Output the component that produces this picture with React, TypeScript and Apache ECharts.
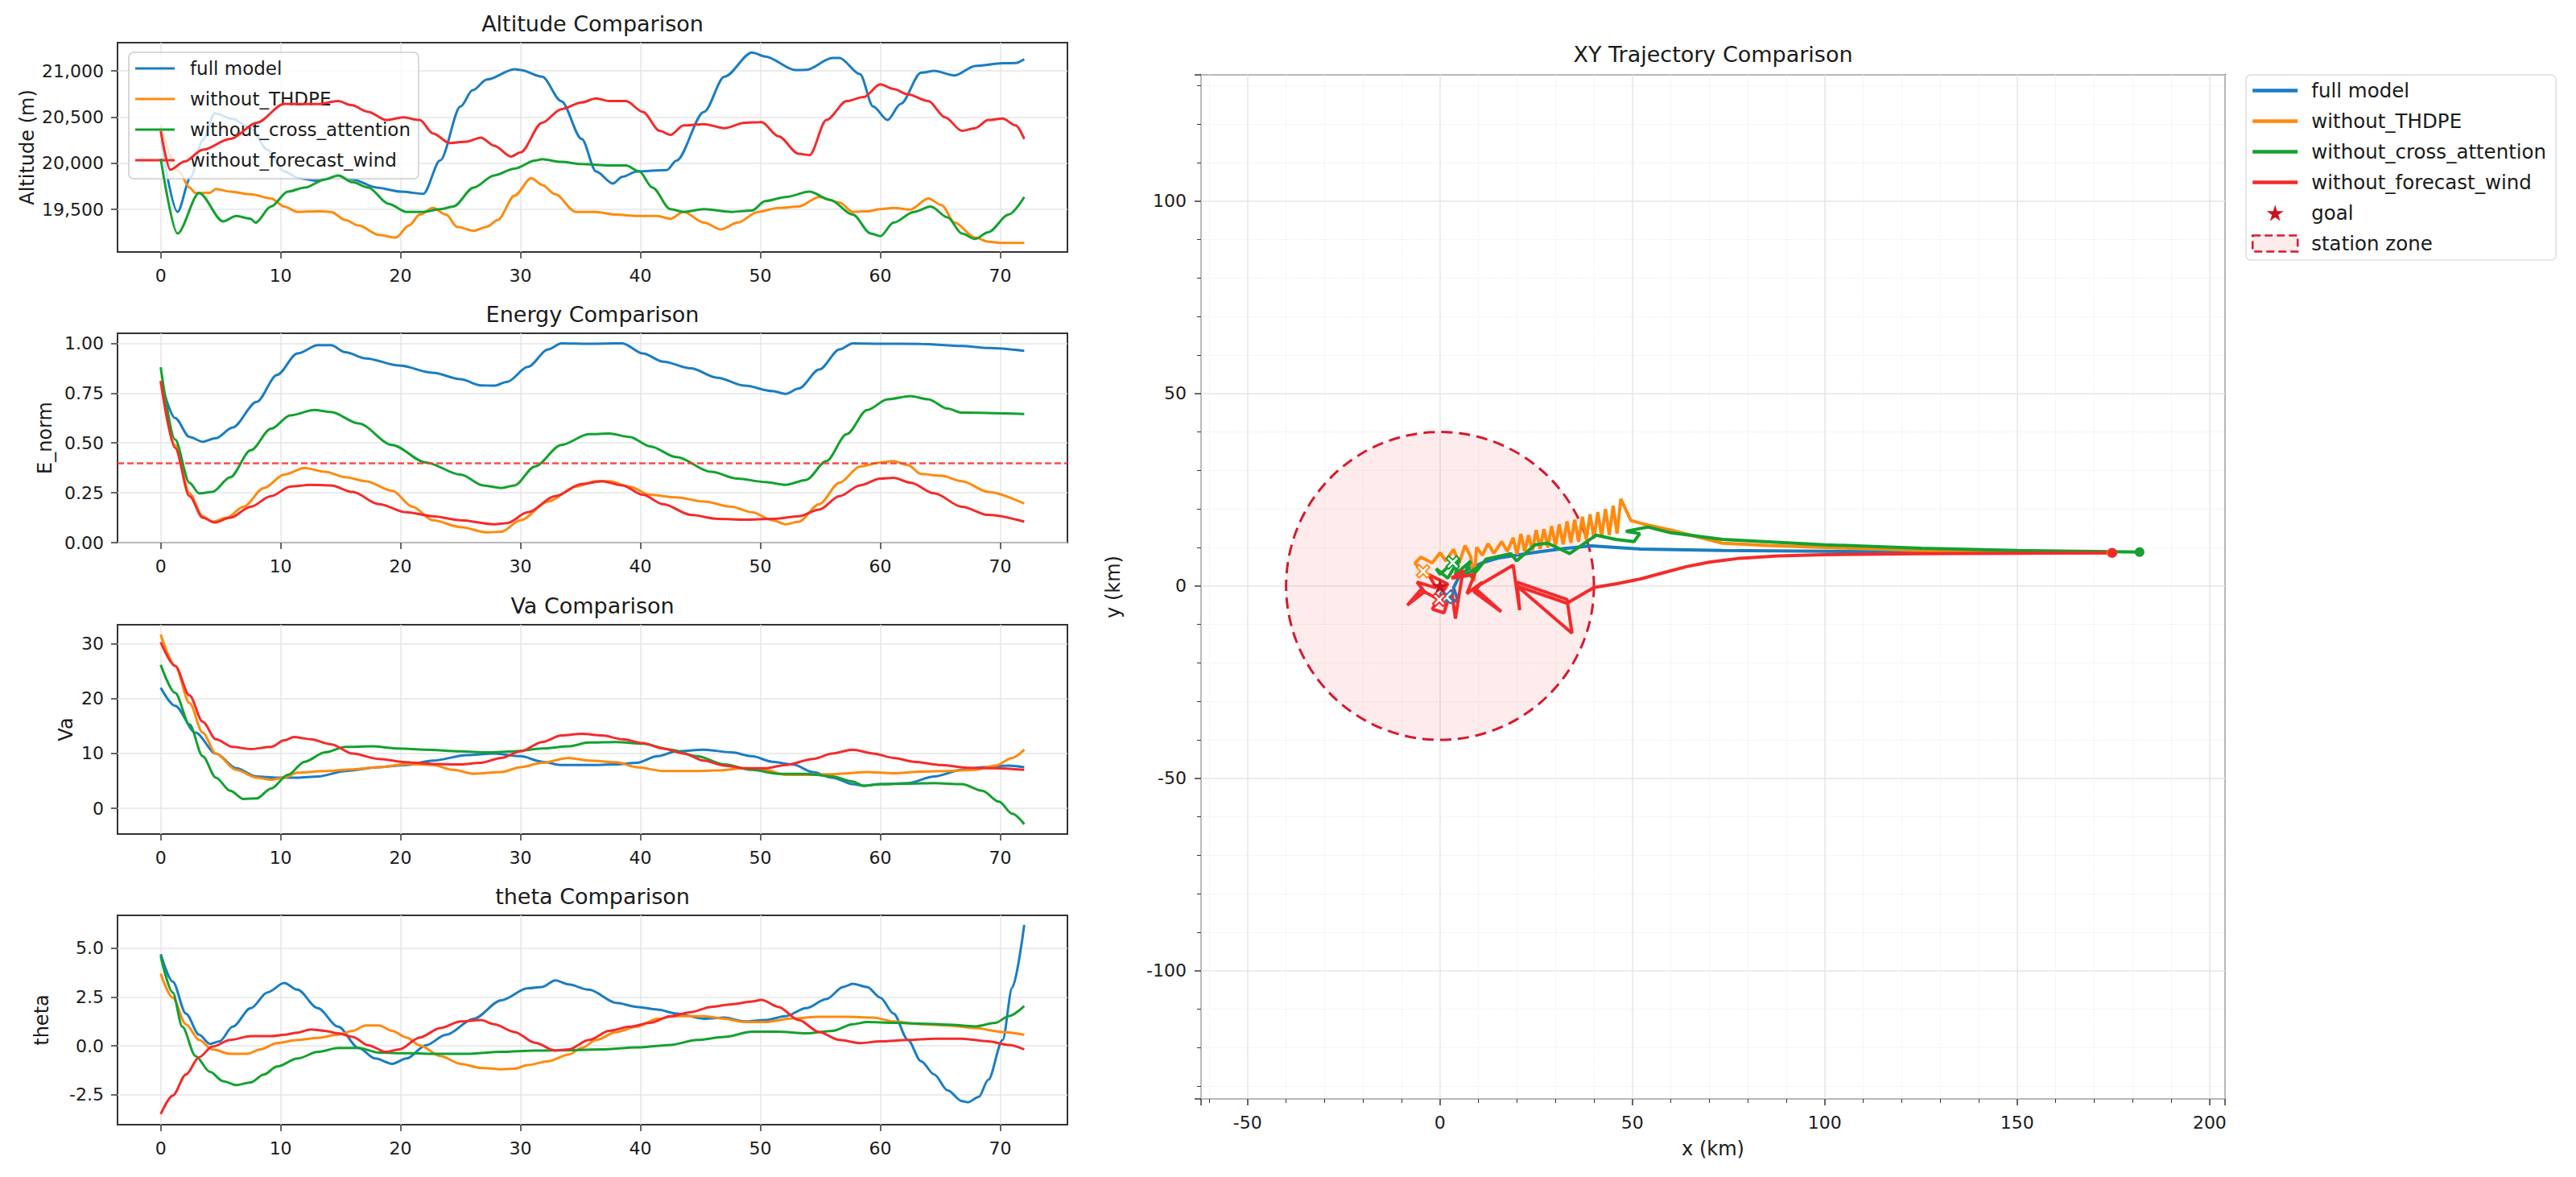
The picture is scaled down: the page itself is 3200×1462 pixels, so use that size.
import { useEffect, useRef } from 'react';
import * as echarts from 'echarts/core';
import { LineChart, ScatterChart, CustomChart } from 'echarts/charts';
import { TitleComponent, LegendComponent, GridComponent, MarkLineComponent } from 'echarts/components';
import { SVGRenderer } from 'echarts/renderers';

echarts.use([LineChart, ScatterChart, CustomChart, TitleComponent, LegendComponent, GridComponent, MarkLineComponent, SVGRenderer]);

// model names, same order in every panel
const MODELS = ['full model', 'without_THDPE', 'without_cross_attention', 'without_forecast_wind'];

// tick labels
const HOUR_TICKS = [0, 10, 20, 30, 40, 50, 60, 70];
const ALT_TICKS = [19500, 20000, 20500, 21000];
const ENERGY_TICKS = [0, 0.25, 0.5, 0.75, 1];
const VA_TICKS = [0, 10, 20, 30];
const THETA_TICKS = [-2.5, 0, 2.5, 5];

const ENERGY_THRESHOLD = 0.4;
const GOAL = [0, 0];
const STATION = [0, 0, 40]; // x, y, radius (km)

// altitude (m) vs hour
const altFull = [[0, 20250], [1.4, 19474], [2.5, 19850], [3.5, 20250], [4.5, 20540], [6, 20480], [7.5, 20380], [8.9, 20146], [10.3, 19912], [11.5, 19840], [13, 19810], [14.8, 19868], [16, 19825], [18, 19737], [20, 19693], [21.9, 19670], [23.3, 20030], [25, 20614], [26, 20790], [27.2, 20906], [29.5, 21017], [30, 21009], [31.8, 20936], [33.4, 20672], [35.1, 20263], [36.3, 19912], [37.7, 19781], [38.5, 19854], [39.7, 19912], [42.2, 19927], [43, 20029], [45.3, 20556], [47, 20936], [49.3, 21199], [50.4, 21155], [52.9, 21009], [53.8, 21010], [56, 21140], [56.6, 21140], [58.3, 20965], [59.4, 20614], [60.6, 20468], [61.7, 20643], [63.4, 20980], [64.5, 21000], [66.2, 20950], [67.9, 21053], [70.2, 21082], [71.3, 21085], [72, 21126]];
const altThdpe = [[0, 20410], [1.5, 19912], [2.4, 19737], [2.9, 19678], [4.1, 19680], [4.6, 19722], [5.8, 19693], [7.5, 19664], [9.2, 19620], [10.3, 19532], [11.4, 19474], [13.1, 19480], [14.2, 19474], [15.4, 19386], [16.5, 19327], [18.2, 19225], [19.6, 19196], [20.7, 19327], [21.6, 19444], [22.7, 19517], [23.8, 19444], [24.7, 19313], [26.1, 19269], [27.2, 19313], [28.1, 19386], [29.5, 19649], [30.9, 19839], [31.8, 19766], [32.9, 19664], [34.6, 19474], [36.3, 19474], [38, 19444], [39.7, 19430], [41.4, 19430], [42.5, 19400], [43.6, 19474], [45.3, 19357], [46.7, 19284], [48.1, 19357], [49.8, 19474], [51.5, 19517], [53.2, 19532], [54.9, 19635], [56.6, 19576], [57.7, 19474], [58.9, 19480], [60, 19503], [61.1, 19517], [62.5, 19500], [64, 19620], [65.1, 19547], [66.2, 19357], [67.9, 19196], [69, 19152], [70.2, 19137], [72, 19137]];
const altCross = [[0, 20050], [1.4, 19240], [3.2, 19678], [5.2, 19371], [6.3, 19430], [7.5, 19400], [7.9, 19357], [9.2, 19532], [10.6, 19693], [12, 19737], [13.7, 19825], [14.8, 19868], [16, 19795], [17.3, 19737], [19, 19561], [20.5, 19474], [21.9, 19474], [23.3, 19503], [24.4, 19532], [26.1, 19737], [27.8, 19868], [29.5, 19942], [31.2, 20029], [31.8, 20044], [33.4, 20015], [35.1, 19991], [37.4, 19977], [38.8, 19977], [39.9, 19912], [41, 19737], [42.5, 19503], [43.6, 19474], [45.3, 19503], [47.6, 19474], [49.3, 19488], [50.4, 19591], [52.1, 19635], [54.1, 19693], [55.8, 19605], [57.7, 19444], [59.2, 19240], [60, 19211], [61.1, 19357], [62.8, 19474], [64.2, 19532], [65.6, 19415], [66.8, 19240], [67.9, 19181], [69, 19254], [70.7, 19444], [72, 19635]];
const altWind = [[0, 20350], [0.8, 19930], [2, 20020], [3.5, 20146], [5.8, 20263], [8, 20439], [10.3, 20643], [12, 20640], [13.1, 20640], [14.8, 20673], [15.9, 20629], [17.3, 20556], [18.8, 20468], [20.2, 20497], [21.6, 20468], [22.7, 20322], [24.1, 20219], [25.5, 20234], [26.7, 20278], [27.8, 20190], [29.2, 20073], [30, 20117], [31.8, 20439], [33.4, 20585], [35.1, 20658], [36.3, 20702], [37.4, 20673], [38.8, 20673], [40.2, 20556], [41.6, 20351], [42.5, 20307], [43.6, 20409], [45.3, 20424], [47, 20380], [48.7, 20439], [50.1, 20444], [51.5, 20292], [53.2, 20102], [54.1, 20088], [55.5, 20468], [57.2, 20673], [58.6, 20716], [60, 20854], [61.1, 20804], [62.3, 20746], [64, 20673], [65.4, 20497], [66.8, 20351], [67.9, 20380], [69, 20468], [70.2, 20483], [71.3, 20409], [72, 20263]];

// normalised energy vs hour
const energyFull = [[0, 0.81], [1.2, 0.625], [2.4, 0.53], [3.5, 0.506], [4.6, 0.524], [6, 0.578], [8, 0.706], [9.7, 0.841], [11.4, 0.949], [13.1, 0.99], [14.2, 0.99], [15.4, 0.955], [17.1, 0.924], [19.9, 0.888], [22.7, 0.852], [25, 0.82], [26.7, 0.789], [27.8, 0.787], [28.9, 0.807], [30.6, 0.881], [32.3, 0.969], [33.4, 1.0], [35.7, 0.998], [38.5, 1.0], [40.2, 0.949], [41.9, 0.908], [44.2, 0.874], [46.4, 0.827], [48.7, 0.787], [51, 0.76], [52.1, 0.746], [53.2, 0.773], [54.9, 0.868], [56.6, 0.969], [57.7, 1.0], [60, 0.998], [63.4, 0.996], [66.8, 0.986], [69, 0.976], [72, 0.962]];
const energyThdpe = [[0, 0.81], [1.2, 0.49], [2.4, 0.247], [3.5, 0.132], [4.3, 0.105], [5.5, 0.125], [6.9, 0.18], [8.6, 0.274], [10.3, 0.341], [12, 0.375], [13.7, 0.355], [15.4, 0.328], [17.1, 0.308], [19.3, 0.26], [21, 0.18], [22.7, 0.112], [25, 0.078], [27.2, 0.051], [28.4, 0.055], [30, 0.112], [32.3, 0.206], [34.6, 0.281], [36.3, 0.308], [37.4, 0.308], [39.1, 0.281], [40.8, 0.24], [43, 0.227], [45.3, 0.206], [47.6, 0.18], [49.3, 0.152], [51, 0.112], [52.1, 0.092], [53.2, 0.105], [54.9, 0.193], [56.6, 0.301], [58.3, 0.382], [60, 0.402], [61.1, 0.409], [62.3, 0.389], [63.4, 0.344], [65.1, 0.335], [66.8, 0.308], [69, 0.254], [72, 0.196]];
const energyCross = [[0, 0.88], [1.2, 0.517], [2.4, 0.3], [3.2, 0.247], [4.3, 0.254], [5.8, 0.328], [7.5, 0.463], [9.2, 0.571], [10.8, 0.638], [12.8, 0.665], [14.2, 0.655], [16.5, 0.598], [19.3, 0.49], [22.1, 0.402], [25, 0.341], [26.9, 0.287], [28.4, 0.274], [29.5, 0.287], [31.2, 0.382], [33.4, 0.49], [35.7, 0.544], [37.4, 0.547], [39.1, 0.53], [40.8, 0.483], [43, 0.429], [45.9, 0.355], [48.1, 0.321], [50.4, 0.304], [52.1, 0.29], [53.8, 0.314], [55.5, 0.409], [57.2, 0.544], [58.9, 0.665], [60.6, 0.719], [62.5, 0.735], [64, 0.719], [65.6, 0.672], [66.8, 0.652], [72, 0.645]];
const energyWind = [[0, 0.81], [1.2, 0.476], [2.4, 0.233], [3.5, 0.125], [4.5, 0.101], [5.8, 0.125], [7.5, 0.18], [9.2, 0.233], [10.8, 0.281], [12.5, 0.29], [14.2, 0.287], [16, 0.254], [18.2, 0.193], [20.5, 0.152], [22.7, 0.132], [25, 0.112], [27.8, 0.092], [28.9, 0.098], [30.6, 0.152], [32.9, 0.233], [35.1, 0.294], [36.8, 0.308], [38.5, 0.287], [40.2, 0.24], [41.9, 0.193], [44.2, 0.139], [46.4, 0.119], [48.7, 0.115], [51, 0.119], [53.2, 0.132], [54.9, 0.166], [56.6, 0.233], [58.3, 0.287], [60, 0.321], [61.1, 0.325], [62.5, 0.301], [64.5, 0.247], [66.8, 0.18], [69, 0.139], [72, 0.105]];

// airspeed Va vs hour
const vaFull = [[0, 22], [1.2, 18.7], [2.9, 13.8], [4.6, 10], [6.3, 7.3], [8, 5.8], [9.7, 5.6], [11.4, 5.6], [13.1, 5.8], [15.4, 6.8], [18.2, 7.5], [20.5, 7.9], [22.7, 8.7], [25.5, 9.7], [27.8, 10], [30, 9.5], [31.8, 8.5], [33.4, 7.9], [35.7, 7.9], [38, 8], [39.7, 8.3], [41.4, 9.5], [43, 10.4], [45.3, 10.7], [47.6, 10.2], [49.3, 9.5], [51, 8.5], [52.7, 8], [54.4, 6.6], [56, 5.6], [57.7, 4.4], [58.6, 4.1], [60, 4.4], [62.3, 4.6], [64.5, 5.8], [66.8, 7], [68.5, 7.5], [70.7, 7.8], [72, 7.5]];
const vaThdpe = [[0, 31.7], [1.2, 26], [2.4, 19.2], [3.5, 13.8], [4.6, 10], [6.3, 7], [8, 5.6], [9.2, 5.2], [10.3, 5.6], [11.4, 6.5], [13.7, 6.8], [16, 7.1], [18.2, 7.5], [20.5, 8.1], [22.7, 7.9], [24.4, 7], [26.1, 6.3], [28.4, 6.6], [30, 7.5], [31.8, 8.3], [34, 9.2], [35.7, 8.7], [38, 8.4], [39.7, 7.5], [41.9, 6.8], [44.2, 6.8], [46.4, 6.9], [48.7, 7.3], [50.4, 7], [52.1, 6.1], [54.4, 6.1], [56.6, 6.3], [58.9, 6.6], [61.1, 6.4], [63.4, 6.7], [65.6, 6.8], [67.9, 7], [69.6, 7.8], [71, 9.2], [72, 10.7]];
const vaCross = [[0, 26.2], [1.2, 21.1], [2.4, 15.3], [3.5, 9.5], [4.6, 5.6], [5.8, 3.2], [6.9, 1.7], [8, 1.8], [9.2, 3.6], [10.6, 6.1], [12, 8.5], [13.7, 10.2], [15.4, 11.2], [17.6, 11.3], [19.9, 10.9], [22.1, 10.7], [25, 10.4], [27.2, 10.2], [29.5, 10.4], [31.8, 10.9], [34, 11.3], [35.7, 12], [38, 12.1], [40.2, 11.8], [42.5, 10.7], [44.7, 9.5], [47, 8], [49.3, 7], [51.5, 6.3], [53.8, 6.3], [56, 5.8], [57.7, 4.9], [58.6, 4.1], [60, 4.4], [62.3, 4.5], [64.5, 4.6], [66.8, 4.4], [68.5, 3.2], [69.9, 1.2], [71, -1], [72, -2.9]];
const vaWind = [[0, 30.3], [1.2, 26], [2.4, 20.6], [3.5, 15.8], [4.6, 12.6], [6, 11.2], [7.5, 10.8], [9.2, 11.2], [10.3, 12.4], [11.1, 13], [12.5, 12.6], [14.2, 11.7], [16, 10], [18.2, 9], [20.5, 8.4], [22.7, 8.1], [25, 8], [26.7, 8.3], [28.4, 9.2], [30, 10.4], [31.8, 12.1], [33.4, 13.3], [35.1, 13.6], [36.8, 13.3], [38.5, 12.6], [40.2, 11.9], [41.9, 10.9], [43.6, 10], [45.3, 8.7], [47, 7.8], [48.7, 7.3], [50.4, 7.3], [52.1, 7.9], [54.4, 9], [56, 10], [57.7, 10.7], [59.4, 10], [61.1, 9.2], [62.8, 8.5], [65.1, 7.9], [67.3, 7.4], [69.6, 7.3], [72, 7]];

// heading theta vs hour
const thetaFull = [[0, 4.7], [1, 3.3], [2.1, 1.66], [3.2, 0.57], [4.1, 0.1], [4.9, 0.23], [6, 0.98], [7.5, 1.93], [8.9, 2.74], [10.3, 3.22], [11.4, 2.88], [13.1, 1.93], [14.8, 0.98], [16.5, -0.11], [17.9, -0.65], [19.3, -0.92], [20.5, -0.65], [22.1, 0.03], [23.8, 0.57], [26.1, 1.39], [28.4, 2.34], [30.6, 2.95], [31.8, 3.02], [32.9, 3.36], [34, 3.15], [35.7, 2.88], [38, 2.2], [39.7, 2], [41.4, 1.86], [43, 1.66], [45.3, 1.39], [47, 1.45], [48.7, 1.25], [50.4, 1.32], [52.1, 1.52], [53.8, 1.93], [55.5, 2.4], [56.9, 3.02], [57.7, 3.18], [58.9, 3.02], [60, 2.47], [61.1, 1.66], [62.3, 0.3], [63.4, -0.79], [64.5, -1.47], [65.6, -2.28], [66.8, -2.83], [67.3, -2.89], [68.2, -2.62], [69, -1.74], [70.2, 0.3], [71, 3], [72, 6.2]];
const thetaThdpe = [[0, 3.7], [1, 2.47], [2.1, 1.11], [3.2, 0.3], [4.3, -0.18], [5.8, -0.41], [7.2, -0.41], [8.3, -0.18], [9.7, 0.14], [11.4, 0.3], [13.1, 0.41], [14.8, 0.57], [16, 0.77], [17.1, 1.05], [18.2, 1.05], [19.3, 0.77], [20.5, 0.43], [21.6, 0.03], [23.3, -0.52], [25, -0.92], [26.7, -1.13], [28.4, -1.2], [29.5, -1.17], [30.6, -0.99], [32.3, -0.79], [34, -0.45], [35.1, -0.11], [36.3, 0.3], [38, 0.71], [39.7, 0.98], [41.4, 1.39], [43, 1.52], [45.3, 1.52], [47, 1.39], [48.7, 1.22], [50.4, 1.22], [52.7, 1.41], [54.9, 1.49], [57.2, 1.49], [59.4, 1.45], [61.1, 1.25], [63.4, 1.11], [65.6, 1.05], [67.9, 0.91], [70.2, 0.71], [72, 0.57]];
const thetaCross = [[0, 4.58], [1, 2.74], [1.8, 0.98], [2.9, -0.52], [4.1, -1.33], [5.2, -1.81], [6.3, -2.01], [7.5, -1.87], [8.6, -1.47], [9.7, -1.06], [11.4, -0.65], [13.1, -0.31], [14.8, -0.11], [16.5, -0.11], [18.2, -0.35], [20.5, -0.38], [23.3, -0.41], [25.5, -0.41], [28.4, -0.31], [31.2, -0.24], [34, -0.22], [36.8, -0.18], [39.7, -0.08], [42.5, 0.05], [44.7, 0.3], [47, 0.46], [49.3, 0.73], [51.5, 0.73], [53.8, 0.64], [56, 0.77], [57.7, 1.11], [58.9, 1.22], [61.1, 1.18], [63.4, 1.14], [65.6, 1.09], [67.9, 1], [69.6, 1.18], [70.7, 1.52], [72, 2.04]];
const thetaWind = [[0, -3.5], [1, -2.55], [2.1, -1.47], [3.2, -0.58], [4.3, -0.04], [5.8, 0.3], [7.5, 0.5], [9.2, 0.5], [10.3, 0.57], [11.4, 0.68], [12.5, 0.84], [13.7, 0.77], [14.8, 0.64], [16, 0.46], [17.3, 0.03], [18.8, -0.31], [19.9, -0.18], [21.6, 0.43], [23.3, 0.91], [25, 1.25], [26.7, 1.32], [27.8, 1.11], [29.5, 0.71], [31.2, 0.16], [32.9, -0.24], [34, -0.18], [35.7, 0.3], [37.4, 0.77], [39.1, 0.98], [40.8, 1.18], [42.5, 1.52], [44.2, 1.73], [45.9, 2], [47.6, 2.13], [49.3, 2.27], [50.1, 2.36], [51.5, 2], [53.2, 1.32], [54.9, 0.71], [56.6, 0.3], [58.3, 0.14], [60, 0.23], [62.3, 0.3], [64.5, 0.37], [66.8, 0.37], [69, 0.23], [70.7, 0.05], [72, -0.18]];

// XY trajectories (km)
const trajFull = [[1.7, -2.9], [4.8, -4.2], [3.5, -0.5], [5, 2.5], [7.5, 4.5], [11, 6], [15, 7.2], [20, 8], [26, 8.9], [32, 9.7], [39.3, 10.4], [52, 9.6], [73.4, 9.2], [100, 9], [130, 8.8], [150, 8.7], [174.7, 8.6]];
const trajThdpe = [[-4.4, 3.8], [-6.5, 5.9], [-5, 7.5], [-2, 6], [0, 8.6], [1.5, 6.5], [3.5, 9.5], [5, 6], [6.5, 10.5], [8, 7.5], [8.8, 1.2], [9.5, 10], [11, 8], [12.5, 11], [14, 8.5], [16, 11.5], [17.5, 9], [19, 12.5], [20, 8.2], [21, 13.5], [22, 9], [23, 13.2], [24, 9.2], [25, 14.5], [26, 9.6], [27, 14.8], [28, 10], [29, 15.5], [30, 10.5], [31, 16], [32, 10.8], [33, 16.8], [34, 11.2], [35, 17.2], [36, 11.5], [37, 18], [38, 12], [39, 18.6], [40, 12.3], [41, 19.2], [42, 12.8], [43, 20], [44, 13.2], [45, 20.8], [46, 13.6], [47, 22.6], [49.6, 17], [53.6, 15.9], [60, 14.5], [73.4, 11.1], [85, 10.5], [100, 10], [125, 9.2], [150, 8.8], [174.5, 8.6]];
const trajCross = [[3.3, 6.1], [0, 3], [-1, 4.5], [2, 2], [5, 7], [4, 3], [8, 6.5], [6, 2.5], [10, 5], [8, 2], [12, 7], [18.4, 8.4], [19.9, 6.5], [24.7, 10.7], [28, 11.1], [33.7, 8.4], [40.6, 13.2], [45.6, 12.1], [50.4, 11.5], [51.9, 13.6], [48.3, 14.2], [54, 15.3], [60, 13.8], [73.4, 12.1], [100, 10.7], [125, 9.8], [150, 9.2], [174.7, 8.9], [181.8, 8.8]];
const trajWind = [[-0.2, -3.6], [-5, -1], [-8.5, -5], [-4, -1.5], [-6, 1], [-1, -0.5], [-3, 3], [2, 0.5], [-2, -6], [1, -7], [3, -1], [4, -8.5], [5, -2], [6, 4], [3, 2], [9, 3], [7, -2], [11, 1], [8.8, -1.5], [15.9, -6.7], [9, -0.5], [19, 5.4], [20.7, -6.3], [20, 1], [33, -3.5], [34.3, -12.3], [20, 0], [33, -4.5], [40, -0.4], [46, 0.6], [52, 1.8], [58, 3.4], [64, 5], [70, 6.2], [78, 7.2], [88, 7.8], [100, 8.1], [125, 8.4], [150, 8.5], [174.7, 8.6]];

const COLORS = ['#1a7dc2', '#ff8a0d', '#13a12f', '#f52a2a'];
const FONT = 'DejaVu Sans';
const INK = '#1a1a1a';
const STAR = 'path://M50,0 L61,35 L98,35 L68,57 L79,91 L50,70 L21,91 L32,57 L2,35 L39,35 Z';
const CROSS = 'path://M0,2 L2,0 L5,3 L8,0 L10,2 L7,5 L10,8 L8,10 L5,7 L2,10 L0,8 L3,5 Z';
const ZONE_FILL = 'rgba(242,60,72,0.1)';
const ZONE_EDGE = '#d7192d';

const panels = [
  { title: 'Altitude Comparison', yName: 'Altitude (m)', data: [altFull, altThdpe, altCross, altWind], ticks: ALT_TICKS, min: 19040, max: 21305, fmt: (v: number) => v.toLocaleString('en-US'), gap: 100, top: 53 },
  { title: 'Energy Comparison', yName: 'E_norm', data: [energyFull, energyThdpe, energyCross, energyWind], ticks: ENERGY_TICKS, min: 0, max: 1.05, fmt: (v: number) => v.toFixed(2), gap: 78, top: 414 },
  { title: 'Va Comparison', yName: 'Va', data: [vaFull, vaThdpe, vaCross, vaWind], ticks: VA_TICKS, min: -4.7, max: 33.5, fmt: (v: number) => String(v), gap: 52, top: 776 },
  { title: 'theta Comparison', yName: 'theta', data: [thetaFull, thetaThdpe, thetaCross, thetaWind], ticks: THETA_TICKS, min: -4.04, max: 6.69, fmt: (v: number) => v.toFixed(1), gap: 82, top: 1137 },
];
const trajectories = [trajFull, trajThdpe, trajCross, trajWind];

const PANEL_LEFT = 146;
const PANEL_W = 1180;
const PANEL_H = 260;
const XY = { left: 1492, top: 93, size: 1272 };

const tick = { show: true, length: 8, lineStyle: { color: '#333', width: 1.5 } };
const label = { fontSize: 22, fontFamily: FONT, color: INK };
const grid = { show: true, borderColor: '#333', borderWidth: 2, backgroundColor: 'transparent' };
const split = { show: true, lineStyle: { color: '#e6e6e6', width: 1.5 } };
const noLine = { show: false, onZero: false };

export default function App() {
  const chartRef = useRef<HTMLDivElement>(null);

  useEffect(() => {
    if (!chartRef.current) return;
    const chart = echarts.init(chartRef.current, null, { renderer: 'svg' });

    const grids: any[] = panels.map((p) => ({ ...grid, left: PANEL_LEFT, top: p.top, width: PANEL_W, height: PANEL_H }));
    grids.push({ ...grid, left: XY.left, top: XY.top, width: XY.size, height: XY.size });

    const xAxes: any[] = panels.map((_, i) => ({
      type: 'value', gridIndex: i, min: -3.6, max: 75.6,
      axisLine: noLine,
      axisTick: { ...tick, customValues: HOUR_TICKS },
      axisLabel: { ...label, margin: 18, customValues: HOUR_TICKS },
      splitLine: split,
    }));
    xAxes.push({
      type: 'value', gridIndex: 4, min: -62.1, max: 204, splitNumber: 5,
      name: 'x (km)', nameLocation: 'middle', nameGap: 50,
      nameTextStyle: { fontSize: 24, fontFamily: FONT, color: INK },
      axisLine: noLine,
      axisTick: tick,
      minorTick: { show: true, splitNumber: 5, length: 5, lineStyle: { color: '#333', width: 1 } },
      axisLabel: { ...label, margin: 18, showMinLabel: false, showMaxLabel: false },
      splitLine: split,
      minorSplitLine: { show: true, lineStyle: { color: '#ececec', width: 1, type: 'dotted' } },
    });

    const yAxes: any[] = panels.map((p, i) => ({
      type: 'value', gridIndex: i, min: p.min, max: p.max,
      name: p.yName, nameLocation: 'middle', nameGap: p.gap,
      nameTextStyle: { fontSize: 24, fontFamily: FONT, color: INK },
      axisLine: noLine,
      axisTick: { ...tick, customValues: p.ticks },
      axisLabel: { ...label, margin: 17, customValues: p.ticks, formatter: p.fmt },
      splitLine: split,
    }));
    yAxes.push({
      type: 'value', gridIndex: 4, min: -133.3, max: 132.8, splitNumber: 5,
      name: 'y (km)', nameLocation: 'middle', nameGap: 97,
      nameTextStyle: { fontSize: 24, fontFamily: FONT, color: INK },
      axisLine: noLine,
      axisTick: tick,
      minorTick: { show: true, splitNumber: 5, length: 5, lineStyle: { color: '#333', width: 1 } },
      axisLabel: { ...label, margin: 18, showMinLabel: false, showMaxLabel: false },
      splitLine: split,
      minorSplitLine: { show: true, lineStyle: { color: '#ececec', width: 1, type: 'dotted' } },
    });

    const series: any[] = [];
    panels.forEach((p, i) => {
      p.data.forEach((d, j) => {
        series.push({
          type: 'line', name: MODELS[j], xAxisIndex: i, yAxisIndex: i, data: d,
          symbol: 'none', showSymbol: false, smooth: 0.3, smoothMonotone: 'x',
          lineStyle: { width: 3, color: COLORS[j] }, itemStyle: { color: COLORS[j] }, z: 2 + j,
          markLine: i === 1 && j === 3 ? {
            silent: true, symbol: 'none', label: { show: false },
            lineStyle: { color: '#ff3535', width: 2.5, type: [8, 4], opacity: 0.9 },
            data: [{ yAxis: ENERGY_THRESHOLD }],
          } : undefined,
        });
      });
    });

    // station zone circle, drawn through the axis scales
    series.push({
      type: 'custom', name: 'station zone', xAxisIndex: 4, yAxisIndex: 4, data: [STATION], z: 1, silent: true,
      itemStyle: { color: ZONE_FILL, borderColor: ZONE_EDGE, borderWidth: 2.5, borderType: 'dashed' },
      renderItem: (_params: any, api: any) => {
        const c = api.coord([api.value(0), api.value(1)]);
        const r = api.size([api.value(2), 0])[0];
        return {
          type: 'circle', shape: { cx: c[0], cy: c[1], r },
          style: { fill: ZONE_FILL, stroke: ZONE_EDGE, lineWidth: 3, lineDash: [14, 8] },
        };
      },
    });
    trajectories.forEach((t, j) => {
      series.push({
        type: 'line', name: MODELS[j], xAxisIndex: 4, yAxisIndex: 4, data: t,
        symbol: 'none', showSymbol: false, lineStyle: { width: 4, color: COLORS[j] }, itemStyle: { color: COLORS[j] }, z: 3 + j,
      });
    });
    trajectories.forEach((t, j) => {
      series.push({
        type: 'scatter', xAxisIndex: 4, yAxisIndex: 4, data: [t[0]], symbol: CROSS, symbolSize: 16, z: 10, silent: true,
        itemStyle: { color: '#ffffff', borderColor: COLORS[j], borderWidth: 2, opacity: 1 },
      });
    });
    trajectories.forEach((t, j) => {
      series.push({
        type: 'scatter', xAxisIndex: 4, yAxisIndex: 4, data: [t[t.length - 1]], symbol: 'circle', symbolSize: 12, z: 10, silent: true,
        itemStyle: { color: COLORS[j], opacity: 1 },
      });
    });
    series.push({
      type: 'scatter', name: 'goal', xAxisIndex: 4, yAxisIndex: 4, data: [GOAL], symbol: STAR, symbolSize: 20, z: 11, silent: true,
      itemStyle: { color: '#c9141f', opacity: 1 },
    });

    const titleStyle = { fontSize: 27, fontWeight: 'normal', fontFamily: FONT, color: INK };
    const titles: any[] = panels.map((p) => ({ text: p.title, left: PANEL_LEFT + PANEL_W / 2, textAlign: 'center', top: p.top - 37, padding: 0, textStyle: titleStyle }));
    titles.push({ text: 'XY Trajectory Comparison', left: XY.left + XY.size / 2, textAlign: 'center', top: 54, padding: 0, textStyle: titleStyle });

    // legend swatches: plain bars in the series colour, no symbol
    const bar = (w: number, h: number) => `path://M0,0 L${w},0 L${w},${h} L0,${h} Z`;

    chart.setOption({
      animation: false,
      textStyle: { fontFamily: FONT },
      title: titles,
      grid: grids,
      xAxis: xAxes,
      yAxis: yAxes,
      legend: [
        {
          data: MODELS.map((name, j) => ({ name, icon: bar(49, 3), itemStyle: { color: COLORS[j] } })),
          left: 160, top: 65, orient: 'vertical', selectedMode: false, symbolKeepAspect: true,
          itemWidth: 49, itemHeight: 16, itemGap: 12,
          backgroundColor: 'rgba(255,255,255,0.8)', borderColor: '#cccccc', borderWidth: 1.5, borderRadius: 6,
          padding: [7, 10, 10, 8],
          textStyle: { fontSize: 23, fontFamily: FONT, color: INK, lineHeight: 26, padding: [0, 0, 0, 14] },
        },
        {
          data: [
            ...MODELS.map((name, j) => ({ name, icon: bar(56, 4.5), itemStyle: { color: COLORS[j] } })),
            { name: 'goal', icon: STAR, itemStyle: { color: '#c9141f' } },
            { name: 'station zone', icon: 'rect', itemStyle: { color: ZONE_FILL, borderColor: ZONE_EDGE, borderWidth: 2.5, borderType: 'dashed' } },
          ],
          left: 2790, top: 93, orient: 'vertical', selectedMode: false, symbolKeepAspect: true,
          itemWidth: 56, itemHeight: 20, itemGap: 11,
          backgroundColor: '#ffffff', borderColor: '#dddddd', borderWidth: 1.5, borderRadius: 6,
          padding: [6, 12, 7, 7],
          textStyle: { fontSize: 24.5, fontFamily: FONT, color: INK, lineHeight: 27, padding: [0, 0, 0, 12] },
        },
      ],
      series,
    });

    return () => {
      chart.dispose();
    };
  }, []);

  return <div ref={chartRef} style={{ position: 'fixed', left: 0, top: 0, width: 3200, height: 1462, background: '#fff' }} />;
}
